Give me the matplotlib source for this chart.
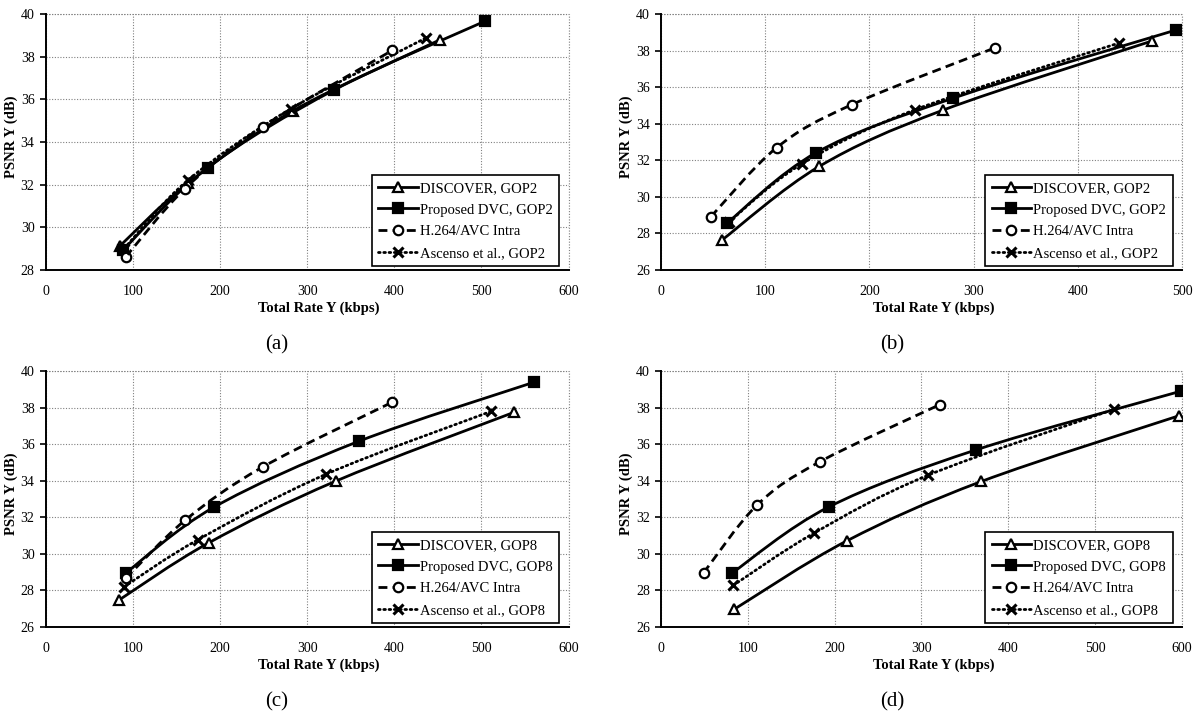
import matplotlib
matplotlib.use("Agg")
import matplotlib.pyplot as plt
from matplotlib.path import Path
from matplotlib.patches import PathPatch
from matplotlib.lines import Line2D
import numpy as np

plt.rcParams['font.family'] = ['Liberation Serif', 'DejaVu Serif']

# ---------------- data ----------------
series_labels_gop2 = ["DISCOVER, GOP2", "Proposed DVC, GOP2", "H.264/AVC Intra", "Ascenso et al., GOP2"]
series_labels_gop8 = ["DISCOVER, GOP8", "Proposed DVC, GOP8", "H.264/AVC Intra", "Ascenso et al., GOP8"]

# (a)
a_disc_x = [85, 163, 284, 453]
a_disc_y = [29.12, 32.06, 35.47, 38.8]
a_prop_x = [89, 186, 331, 504]
a_prop_y = [28.95, 32.8, 36.44, 39.66]
a_h264_x = [92, 160, 249, 398]
a_h264_y = [28.62, 31.82, 34.72, 38.3]
a_asc_x = [90, 163, 281, 436]
a_asc_y = [29.0, 32.2, 35.55, 38.87]

# (b)
b_disc_x = [59, 152, 271, 471]
b_disc_y = [27.66, 31.67, 34.75, 38.52]
b_prop_x = [63, 149, 280, 494]
b_prop_y = [28.55, 32.42, 35.39, 39.12]
b_h264_x = [48, 111, 183, 321]
b_h264_y = [28.92, 32.69, 35.04, 38.16]
b_asc_x = [65, 135, 244, 440]
b_asc_y = [28.62, 31.8, 34.77, 38.42]

# (c)
c_disc_x = [84, 187, 333, 538]
c_disc_y = [27.47, 30.6, 33.98, 37.75]
c_prop_x = [92, 193, 359, 560]
c_prop_y = [28.96, 32.55, 36.15, 39.38]
c_h264_x = [92, 160, 249, 398]
c_h264_y = [28.67, 31.84, 34.75, 38.3]
c_asc_x = [90, 175, 322, 511]
c_asc_y = [28.2, 30.78, 34.36, 37.79]

# (d)
d_disc_x = [84, 214, 369, 597]
d_disc_y = [26.96, 30.71, 33.96, 37.56]
d_prop_x = [82, 193, 363, 599]
d_prop_y = [28.96, 32.56, 35.69, 38.9]
d_h264_x = [49, 111, 183, 321]
d_h264_y = [28.96, 32.69, 35.04, 38.16]
d_asc_x = [83, 176, 307, 522]
d_asc_y = [28.27, 31.13, 34.29, 37.91]

panel_tags = ["(a)", "(b)", "(c)", "(d)"]
x_limits = [600, 500, 600, 600]
y_bottoms = [28, 26, 26, 26]

# ---------------- styles ----------------
styles = [
    dict(marker='^', mfc='white', dashes=None),
    dict(marker='s', mfc='black', dashes=None),
    dict(marker='o', mfc='white', dashes=(3.2, 1.9)),
    dict(marker='x', mfc='black', dashes=(0.6, 1.3)),
]
LW = 2.0
MS = 6.8
GRID = dict(color='#808080', lw=0.8, ls=(0, (1, 1.5)))


def smooth_path(xs, ys):
    P = np.column_stack([xs, ys]).astype(float)
    n = len(P)
    verts = [P[0]]
    codes = [Path.MOVETO]
    for i in range(n - 1):
        p0 = P[i - 1] if i > 0 else P[i]
        p1 = P[i]
        p2 = P[i + 1]
        p3 = P[i + 2] if i + 2 < n else P[i + 1]
        c1 = p1 + (p2 - p0) / 6.0
        c2 = p2 - (p3 - p1) / 6.0
        verts += [c1, c2, p2]
        codes += [Path.CURVE4] * 3
    return Path(verts, codes)


W, H = 1200, 721
fig = plt.figure(figsize=(W / 100, H / 100), dpi=100)

boxes = [(45.7, 14, 568.5, 270), (661, 14, 1182, 270),
         (45.7, 371, 568.5, 627), (661, 371, 1182, 627)]

panels = [
    [(a_disc_x, a_disc_y), (a_prop_x, a_prop_y), (a_h264_x, a_h264_y), (a_asc_x, a_asc_y)],
    [(b_disc_x, b_disc_y), (b_prop_x, b_prop_y), (b_h264_x, b_h264_y), (b_asc_x, b_asc_y)],
    [(c_disc_x, c_disc_y), (c_prop_x, c_prop_y), (c_h264_x, c_h264_y), (c_asc_x, c_asc_y)],
    [(d_disc_x, d_disc_y), (d_prop_x, d_prop_y), (d_h264_x, d_h264_y), (d_asc_x, d_asc_y)],
]
labels_per_panel = [series_labels_gop2, series_labels_gop2, series_labels_gop8, series_labels_gop8]

for k, (l, t, r, b) in enumerate(boxes):
    ax = fig.add_axes([l / W, 1 - b / H, (r - l) / W, (b - t) / H])
    ax.set_xlim(0, x_limits[k])
    ax.set_ylim(y_bottoms[k], 40)
    ax.set_xticks(np.arange(0, x_limits[k] + 1, 100))
    ax.set_yticks(np.arange(y_bottoms[k], 40.1, 2))
    ax.grid(True, **GRID)
    for s in ['top', 'right']:
        ax.spines[s].set_visible(False)
    for s in ['left', 'bottom']:
        ax.spines[s].set_linewidth(1.4)
    ax.axhline(40, zorder=0.5, clip_on=False, **GRID)
    ax.axvline(x_limits[k], zorder=0.5, clip_on=False, **GRID)
    ax.tick_params(axis='y', length=4, width=1.2, direction='out', labelsize=10, pad=4)
    ax.tick_params(axis='x', length=0, labelsize=10, pad=11)
    ax.set_axisbelow(True)

    handles = []
    for j, (xs, ys) in enumerate(panels[k]):
        st = styles[j]
        patch = PathPatch(smooth_path(xs, ys), fill=False, edgecolor='black', lw=LW,
                          capstyle='round' if j == 3 else 'butt', zorder=3)
        if st['dashes'] is not None:
            patch.set_linestyle((0, st['dashes']))
        ax.add_patch(patch)
        is_x = st['marker'] == 'x'
        mew = 2.2 if is_x else 1.6
        ms = 7.5 if is_x else MS
        ax.plot(xs, ys, ls='none', marker=st['marker'], ms=ms,
                mfc=st['mfc'], mec='black', mew=mew, zorder=4)
        h = Line2D([0], [0], color='black', lw=LW, marker=st['marker'],
                   ms=ms, mfc=st['mfc'], mec='black', mew=mew)
        if st['dashes'] is not None:
            h.set_linestyle((0, st['dashes']))
            if j == 3:
                h.set_dash_capstyle('round')
        handles.append(h)

    leg = ax.legend(handles, labels_per_panel[k], loc='lower right',
                    bbox_to_anchor=(0.982, 0.014), fontsize=10.5, frameon=True,
                    fancybox=False, edgecolor='black', framealpha=1,
                    handlelength=2.7, handletextpad=0.15, labelspacing=0.58,
                    borderpad=0.45, borderaxespad=0)
    leg.get_frame().set_linewidth(1.2)

    fig.text((l - 34.5) / W, 1 - (t + 0.48 * (b - t)) / H, "PSNR Y (dB)", rotation=90,
             ha='center', va='center', fontsize=10.5, fontweight='bold')
    fig.text((l + 273) / W, 1 - (b + 38) / H, "Total Rate Y (kbps)", ha='center', va='center',
             fontsize=10.5, fontweight='bold')
    fig.text((l + 231) / W, 1 - (b + 75) / H, panel_tags[k], ha='center', va='center',
             fontsize=15)

fig.savefig("out.png", dpi=100)
